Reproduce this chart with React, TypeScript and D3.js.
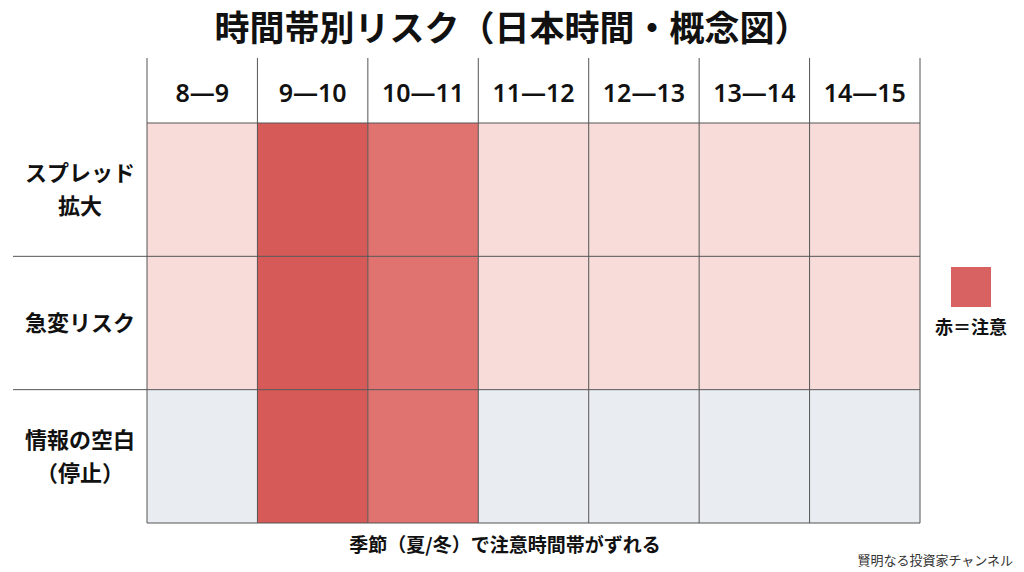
import React from "react";
import * as d3 from "d3";

const hours = ["8—9", "9—10", "10—11", "11—12", "12—13", "13—14", "14—15"];
const risks = [["スプレッド", "拡大"], ["急変リスク"], ["情報の空白", "（停止）"]];
const spreadLevel = [1, 3, 2, 1, 1, 1, 1];
const suddenLevel = [1, 3, 2, 1, 1, 1, 1];
const infoLevel = [0, 3, 2, 0, 0, 0, 0];
const levels = [spreadLevel, suddenLevel, infoLevel];
const levelColors = ["#e9ecf1", "#f7dcd9", "#e07370", "#d65a58"];

const FONT = "'Noto Sans CJK JP', 'Noto Sans', sans-serif";

export default function App() {
  const W = 1024, H = 572;
  const x = d3.scaleBand<number>().domain(d3.range(hours.length)).range([147, 920]);
  const y = d3.scaleBand<number>().domain(d3.range(risks.length)).range([123, 523]);
  const color = d3.scaleOrdinal<number, string>().domain([0, 1, 2, 3]).range(levelColors);
  const line = "#555";
  return (
    <svg width={W} height={H} style={{ position: "absolute", left: 0, top: 0, background: "#fff" }} fontFamily={FONT}>
      <rect width={W} height={H} fill="#fff" />
      <text x={512} y={41} textAnchor="middle" fontSize={35} fontWeight={700} fill="#111">時間帯別リスク（日本時間・概念図）</text>
      {levels.map((row, r) =>
        row.map((v, c) => (
          <rect key={`${r}-${c}`} x={x(c)} y={y(r)} width={x.bandwidth()} height={y.bandwidth()} fill={color(v)} />
        ))
      )}
      {d3.range(hours.length + 1).map((i) => {
        const xx = i < hours.length ? x(i)! : x(hours.length - 1)! + x.bandwidth();
        return <line key={`v${i}`} x1={xx} x2={xx} y1={58} y2={523} stroke={line} strokeWidth={1} />;
      })}
      <line x1={147} x2={920} y1={123} y2={123} stroke={line} />
      {d3.range(1, risks.length).map((i) => (
        <line key={`h${i}`} x1={13} x2={920} y1={y(i)} y2={y(i)} stroke={line} />
      ))}
      <line x1={147} x2={920} y1={523} y2={523} stroke={line} />
      {hours.map((h, i) => (
        <text key={h} x={x(i)! + x.bandwidth() / 2} y={102} textAnchor="middle" fontSize={25} fontWeight={600} fontFamily="'Noto Sans', sans-serif" fill="#111">{h}</text>
      ))}
      {risks.map((lines, r) => {
        const cy = y(r)! + y.bandwidth() / 2;
        const lh = 33;
        const start = cy - ((lines.length - 1) * lh) / 2;
        return lines.map((t, k) => (
          <text key={`${r}-${k}`} x={80} y={start + k * lh} dy="0.36em" textAnchor="middle" fontSize={22} fontWeight={700} fill="#111">{t}</text>
        ));
      })}
      <rect x={951} y={267} width={40} height={40} fill={levelColors[3]} opacity={0.95} />
      <text x={971} y={334} textAnchor="middle" fontSize={18} fontWeight={700} fill="#111">赤＝注意</text>
      <text x={505} y={552} textAnchor="middle" fontSize={19} fontWeight={700} fill="#111">季節（夏/冬）で注意時間帯がずれる</text>
      <text x={1013} y={565} textAnchor="end" fontSize={13} fill="#333">賢明なる投資家チャンネル</text>
    </svg>
  );
}
